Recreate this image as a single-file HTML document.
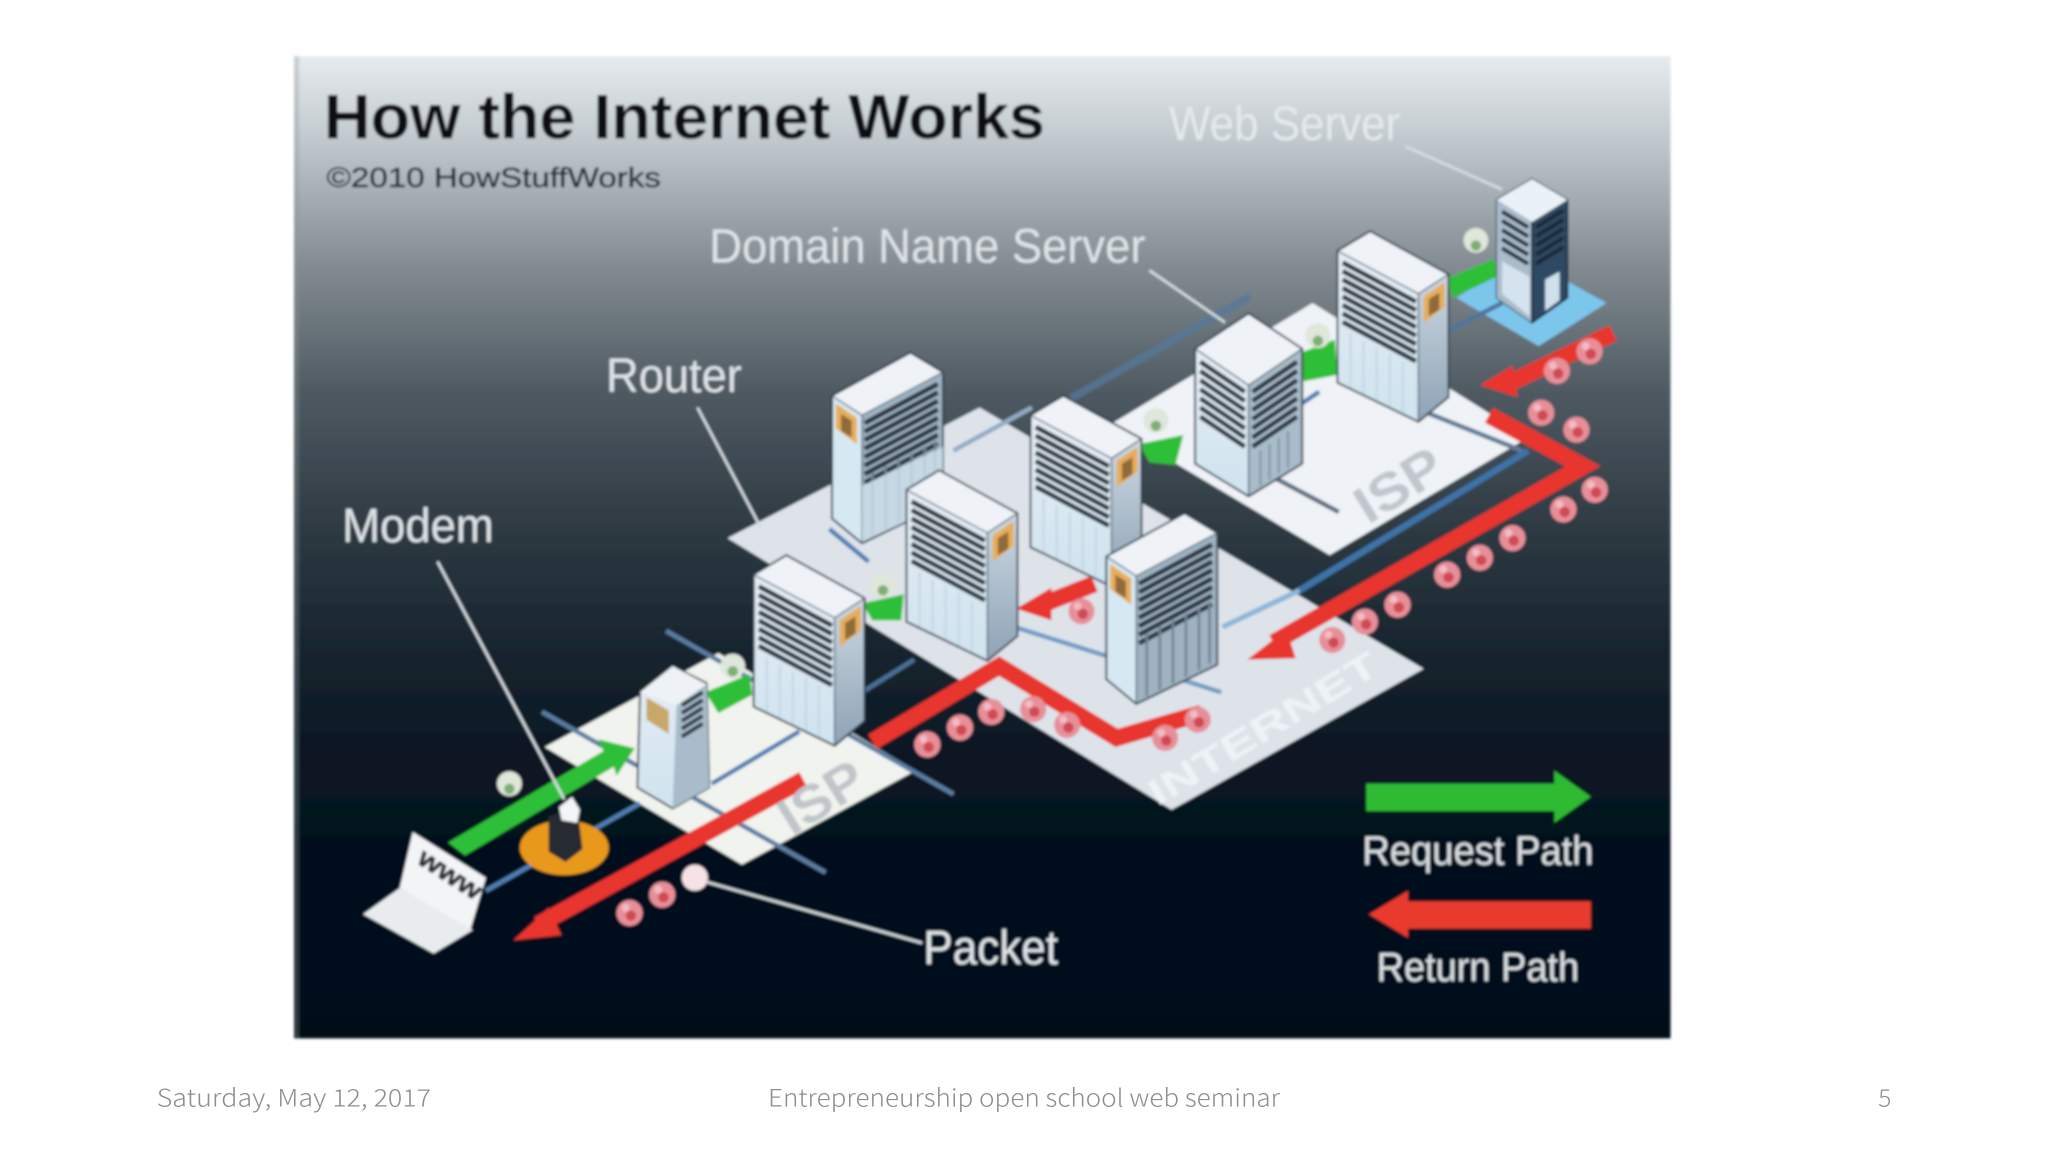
<!DOCTYPE html>
<html><head><meta charset="utf-8"><style>
html,body{margin:0;padding:0;background:#fff;width:2048px;height:1152px;overflow:hidden}
svg{display:block}
text{font-family:"Liberation Sans",sans-serif}
.f{font-family:"Noto Sans CJK JP","Liberation Sans",sans-serif;font-size:18.5px;fill:#8e8e8e;font-weight:300}
.l{fill:#dfe4e8;font-size:37px}
</style></head><body>
<svg width="2048" height="1152" viewBox="0 0 1568 882" xmlns="http://www.w3.org/2000/svg">
<defs>
<linearGradient id="bg" x1="0" y1="0" x2="0" y2="1">
<stop offset="0" stop-color="#e6ebee"/><stop offset=".08" stop-color="#c3cbd0"/><stop offset=".21" stop-color="#848d93"/><stop offset=".34" stop-color="#4f5a62"/><stop offset=".48" stop-color="#2e3a43"/><stop offset=".6" stop-color="#18252f"/><stop offset=".7" stop-color="#0b1824"/><stop offset=".8" stop-color="#03111d"/><stop offset="1" stop-color="#021019"/>
</linearGradient>
<linearGradient id="lf" x1="0" y1="0" x2="0" y2="1"><stop offset="0" stop-color="#e6edf4"/><stop offset="1" stop-color="#cfe3ef"/></linearGradient>
<linearGradient id="rf" x1="0" y1="0" x2="0" y2="1"><stop offset="0" stop-color="#ccd8e2"/><stop offset="1" stop-color="#8ea3b5"/></linearGradient>
<filter id="bl" x="-2%" y="-2%" width="104%" height="104%"><feGaussianBlur stdDeviation="1"/></filter>
<g id="st" fill="none" stroke="#27323d" stroke-width="3.600">
<path d="M6 24 62 54M6 30.500 62 60.500M6 37 62 67M6 43.500 62 73.500M6 50 62 80M6 56.500 62 86.500M6 63 62 93M6 69.500 62 99.500"/>
</g>
<g id="A">
<polygon points="2,15 64,48 64,146 2,116" fill="url(#lf)"/>
<polygon points="64,48 87,33 87,127 64,146" fill="url(#rf)"/>
<polygon points="27,0 87,33 64,48 2,15" fill="#eff3f8"/>
<use href="#st"/>
<path d="M12 78V120M22 84V125M32 89V130M42 94V135M52 100V140" stroke="#c3d7e5" stroke-width="1.500"/>
<polygon points="68,50 84,39 84,58 68,70" fill="#e8ad58"/>
<polygon points="72,52 80,47 80,60 72,65" fill="#8f6a3a"/>
<polygon points="27,0 87,33 87,127 64,146 2,116 2,15" fill="none" stroke="#2c3b4a" stroke-width="1.500"/>
<path d="M2 15 64 48 87 33M64 48V146" fill="none" stroke="#4f6070" stroke-width="1"/>
</g>
<g id="B">
<polygon points="86,15 24,48 24,146 86,116" fill="#9fb2c2"/>
<polygon points="24,48 1,33 1,127 24,146" fill="#d6e8f2"/>
<polygon points="61,0 1,33 24,48 86,15" fill="#eff3f8"/>
<g transform="translate(88,0) scale(-1,1)"><use href="#st"/></g>
<path d="M32 92V140M42 87V135M52 82V130M62 77V125M72 72V120M80 68V115" stroke="#6f8494" stroke-width="2"/>
<polygon points="4,39 20,50 20,70 4,58" fill="#e8ad58"/>
<polygon points="8,47 16,52 16,65 8,60" fill="#8f6a3a"/>
<polygon points="61,0 86,15 86,116 24,146 1,127 1,33" fill="none" stroke="#2c3b4a" stroke-width="1.500"/>
<path d="M86 15 24 48 1 33M24 48V146" fill="none" stroke="#4f6070" stroke-width="1"/>
</g>
<g id="P"><circle r="10" fill="#e78f99"/><circle r="4" cx="1" cy="2" fill="#d04a52"/><circle r="3" cx="-3" cy="-4" fill="#f3bcc2"/></g>
<g id="G"><circle r="9.500" fill="#dfe6da"/><circle r="4" cy="4" fill="#7fae74"/></g>
</defs>
<rect width="1568" height="882" fill="#fff"/>
<g filter="url(#bl)">
<rect x="225" y="43" width="1054" height="752" fill="url(#bg)"/>
<rect x="225" y="43" width="4" height="752" fill="#8a949b" opacity=".3"/>

<!-- plates -->
<polygon points="750,312 1090,512 897,620 557,412" fill="#dee3ea"/>
<polygon points="417,572 568,662 701,590 550,500" fill="#f1f3ee"/>
<polygon points="850,325 1005,232 1170,335 1018,425" fill="#eff2f6"/>
<polygon points="1115,228 1165,196 1230,232 1178,265" fill="#7cc6ec"/>

<!-- network lines -->
<g fill="none" stroke="#507fb4" stroke-width="3.500">
<path d="M820 305 957 227" stroke="#56789c" stroke-width="6" opacity=".75"/>
<path d="M1170 345 995 452" stroke="#3d73a8" stroke-width="5"/>
<path d="M995 452 936 480" stroke="#8ab6d8" stroke-width="4"/>
<path d="M372 682 490 615"/>
<path d="M415 545 632 668" stroke="#5a7da3"/>
<path d="M510 483 730 608" stroke="#5a7da3"/>
<path d="M545 600 612 560"/>
<path d="M660 530 700 505" stroke="#4a6f99"/>
<path d="M635 405 665 430"/>
<path d="M730 345 790 312" stroke="#93aac6"/>
<path d="M745 470 935 530" stroke="#6f9cc4"/>
<path d="M935 350 1010 300"/>
<path d="M965 360 1025 392" stroke="#5d6f82"/>
<path d="M1090 315 1165 345" stroke="#5d7a96"/>
<path d="M1105 255 1150 232" stroke="#4d75a0"/>
</g>

<!-- red paths -->
<g fill="none" stroke="#e8342e" stroke-width="13">
<path d="M1235 255 1150 296"/>
<path d="M1140 318 1212 357 975 492"/>
<path d="M920 546 855 565 765 510 668 568"/>
<path d="M615 597 412 708"/>
<path d="M838 447 795 464"/>
</g>
<g fill="#e8342e">
<polygon points="1133,295 1158,280 1162,304"/>
<polygon points="955,505 985,482 992,504"/>
<polygon points="393,720 420,695 430,716"/>
<polygon points="778,466 805,450 805,475"/>
</g>

<!-- green paths -->
<g fill="#2fbf38">
<polygon points="343,645 462,575 458,566 486,573 472,594 470,587 356,655"/>
<polygon points="540,530 574,516 576,532 550,546"/>
<polygon points="660,462 692,455 690,475 668,475"/>
<polygon points="872,340 906,333 900,356 880,354"/>
<polygon points="996,270 1022,260 1024,287 998,292"/>
<polygon points="1108,213 1144,198 1146,212 1112,228"/>
</g>

<!-- text on plates -->
<text x="1078" y="383" transform="rotate(-32 1078 383)" font-size="40" font-weight="bold" fill="#c0c6cd" textLength="72" lengthAdjust="spacingAndGlyphs" text-anchor="middle">ISP</text>
<text x="636" y="622" transform="rotate(-32 636 622)" font-size="40" font-weight="bold" fill="#c0c5ca" textLength="70" lengthAdjust="spacingAndGlyphs" text-anchor="middle">ISP</text>
<text x="972" y="566" transform="rotate(-31 972 566)" font-size="28" font-weight="bold" fill="#eff3f6" textLength="200" lengthAdjust="spacingAndGlyphs" text-anchor="middle">INTERNET</text>

<!-- servers -->
<g>
<polygon points="1173,137 1200,153 1200,228 1173,247 1146,228 1146,153" fill="#2f4a63" stroke="#1e2b38" stroke-width="1.500"/>
<polygon points="1146,153 1173,170 1173,247 1146,228" fill="#a9bccc"/>
<polygon points="1173,137 1200,153 1173,170 1146,153" fill="#eaf1f7"/>
<path d="M1150 162 1170 174M1150 169 1170 181M1150 176 1170 188M1150 183 1170 195M1150 190 1170 202" stroke="#1b2631" stroke-width="3"/>
<path d="M1176 174 1197 161M1176 181 1197 168M1176 188 1197 175M1176 195 1197 182M1176 202 1197 189" stroke="#1b2631" stroke-width="3"/>
<polygon points="1150,200 1171,212 1171,242 1150,225" fill="#d5e3ee"/>
<polygon points="1183,214 1194,208 1194,230 1183,238" fill="#cfdfeb"/>
<path d="M1173 170V247" stroke="#141e28" stroke-width="1.500"/>
</g>
<use href="#A" x="1022" y="177"/>
<g transform="translate(915,240)">
<polygon points="0,27 41,55 41,140 0,115" fill="url(#lf)"/>
<polygon points="82,27 41,55 41,140 82,115" fill="#a9bcca"/>
<polygon points="41,0 82,27 41,55 0,27" fill="#eff3f8"/>
<path d="M4 37 38 60M4 44 38 67M4 51 38 74M4 58 38 81M4 65 38 88M4 72 38 95M4 79 38 102" stroke="#27323d" stroke-width="3.500"/>
<path d="M44 60 78 37M44 67 78 44M44 74 78 51M44 81 78 58M44 88 78 65M44 95 78 72M44 102 78 79" stroke="#27323d" stroke-width="3.500"/>
<path d="M50 105V132M57 100V127M64 95V122M71 90V118" stroke="#7b90a0" stroke-width="1.500"/>
<polygon points="41,0 82,27 82,115 41,140 0,115 0,27" fill="none" stroke="#2c3b4a" stroke-width="1.500"/>
<path d="M0 27 41 55 82 27M41 55V140" fill="none" stroke="#3c4b59" stroke-width="1"/>
</g>
<use href="#B" x="636" y="270"/>
<polygon points="660,372 722,342 722,386 660,415" fill="#d3e6f0" opacity=".75"/>
<use href="#A" x="787" y="303"/>
<use href="#A" x="692" y="360"/>
<use href="#B" x="846" y="393"/>
<use href="#A" x="575" y="425"/>
<g>
<polygon points="515,510 541,523 543,603 515,619 488,603 490,530" fill="url(#lf)" stroke="#344452" stroke-width="1.500"/>
<polygon points="518,540 541,524 543,603 515,619" fill="#a8bccb"/>
<polygon points="515,510 541,524 518,540 490,530" fill="#eef2f6"/>
<path d="M522 540 538 530M522 546 538 536M522 552 538 542M522 558 538 548M522 564 538 554" stroke="#27323d" stroke-width="3"/>
<polygon points="495,534 512,544 512,562 495,551" fill="#c9a76a"/>
</g>

<!-- packets -->
<g>
<use href="#P" x="482" y="699"/><use href="#P" x="507" y="685"/>
<circle cx="532" cy="672" r="10" fill="#f6e2e4"/>
<use href="#P" x="710" y="570"/><use href="#P" x="735" y="557"/><use href="#P" x="759" y="545"/>
<use href="#P" x="791" y="543"/><use href="#P" x="817" y="555"/><use href="#P" x="892" y="565"/><use href="#P" x="917" y="551"/>
<use href="#P" x="1020" y="490"/><use href="#P" x="1045" y="476"/><use href="#P" x="1070" y="463"/>
<use href="#P" x="1108" y="440"/><use href="#P" x="1133" y="427"/><use href="#P" x="1158" y="412"/>
<use href="#P" x="1197" y="390"/><use href="#P" x="1221" y="375"/><use href="#P" x="1180" y="316"/>
<use href="#P" x="1207" y="329"/><use href="#P" x="1192" y="284"/><use href="#P" x="1217" y="269"/>
<use href="#P" x="828" y="468"/>
<use href="#G" x="390" y="600"/><use href="#G" x="561" y="510"/><use href="#G" x="676" y="448"/>
<use href="#G" x="885" y="322"/><use href="#G" x="1009" y="257"/><use href="#G" x="1130" y="184"/>
</g>

<!-- modem -->
<ellipse cx="432" cy="649" rx="34" ry="21" fill="#e8991d"/>
<polygon points="420,625 442,618 446,650 433,660 420,652" fill="#262b30"/>
<polygon points="428,618 438,610 444,620 442,630 430,628" fill="#f3f5f7"/>

<!-- laptop -->
<polygon points="316,637 372,672 360,712 306,680" fill="#f2f4f6"/>
<polygon points="278,700 306,680 362,712 332,730" fill="#e9ecef"/>
<text x="341" y="675" transform="rotate(33 341 675)" font-size="20" font-weight="bold" fill="#2d3135" text-anchor="middle" textLength="54" lengthAdjust="spacingAndGlyphs" stroke="#2d3135" stroke-width=".6">www</text>

<!-- leaders -->
<g stroke="#d8dee3" stroke-width="2" fill="none">
<path d="M1076 112 1150 145"/><path d="M880 207 938 247"/><path d="M534 312 583 405"/><path d="M335 430 432 612"/><path d="M540 675 706 722"/>
</g>

<!-- legend -->
<polygon points="1046,600 1190,600 1190,590 1218,610 1190,630 1190,621 1046,621" fill="#2dbb33"/>
<polygon points="1218,690 1078,690 1078,682 1048,700 1078,718 1078,711 1218,711" fill="#e83a2e"/>

<!-- labels -->
<text x="248" y="106" font-size="48" font-weight="bold" fill="#090e16" textLength="552" lengthAdjust="spacingAndGlyphs">How the Internet Works</text>
<text x="250" y="143" font-size="21" fill="#20272d" textLength="256" lengthAdjust="spacingAndGlyphs" stroke="#20272d" stroke-width=".3">©2010 HowStuffWorks</text>
<text class="l" x="895" y="107" textLength="177" lengthAdjust="spacingAndGlyphs" style="fill:#e4e9ed">Web Server</text>
<text class="l" x="543" y="201" textLength="334" lengthAdjust="spacingAndGlyphs">Domain Name Server</text>
<text class="l" x="464" y="300" textLength="104" lengthAdjust="spacingAndGlyphs">Router</text>
<text class="l" x="262" y="415" textLength="116" lengthAdjust="spacingAndGlyphs">Modem</text>
<text class="l" x="707" y="738" textLength="103" lengthAdjust="spacingAndGlyphs">Packet</text>
<text x="1043" y="662" font-size="31" fill="#dce1e5" textLength="177" lengthAdjust="spacingAndGlyphs">Request Path</text>
<text x="1054" y="751" font-size="31" fill="#dce1e5" textLength="155" lengthAdjust="spacingAndGlyphs">Return Path</text>
</g>

<!-- footer -->
<text class="f" x="120" y="847" textLength="210" lengthAdjust="spacingAndGlyphs">Saturday, May 12, 2017</text>
<text class="f" x="588" y="847" textLength="392" lengthAdjust="spacingAndGlyphs">Entrepreneurship open school web seminar</text>
<text class="f" x="1438" y="847" textLength="10" lengthAdjust="spacingAndGlyphs">5</text>
</svg>
</body></html>
